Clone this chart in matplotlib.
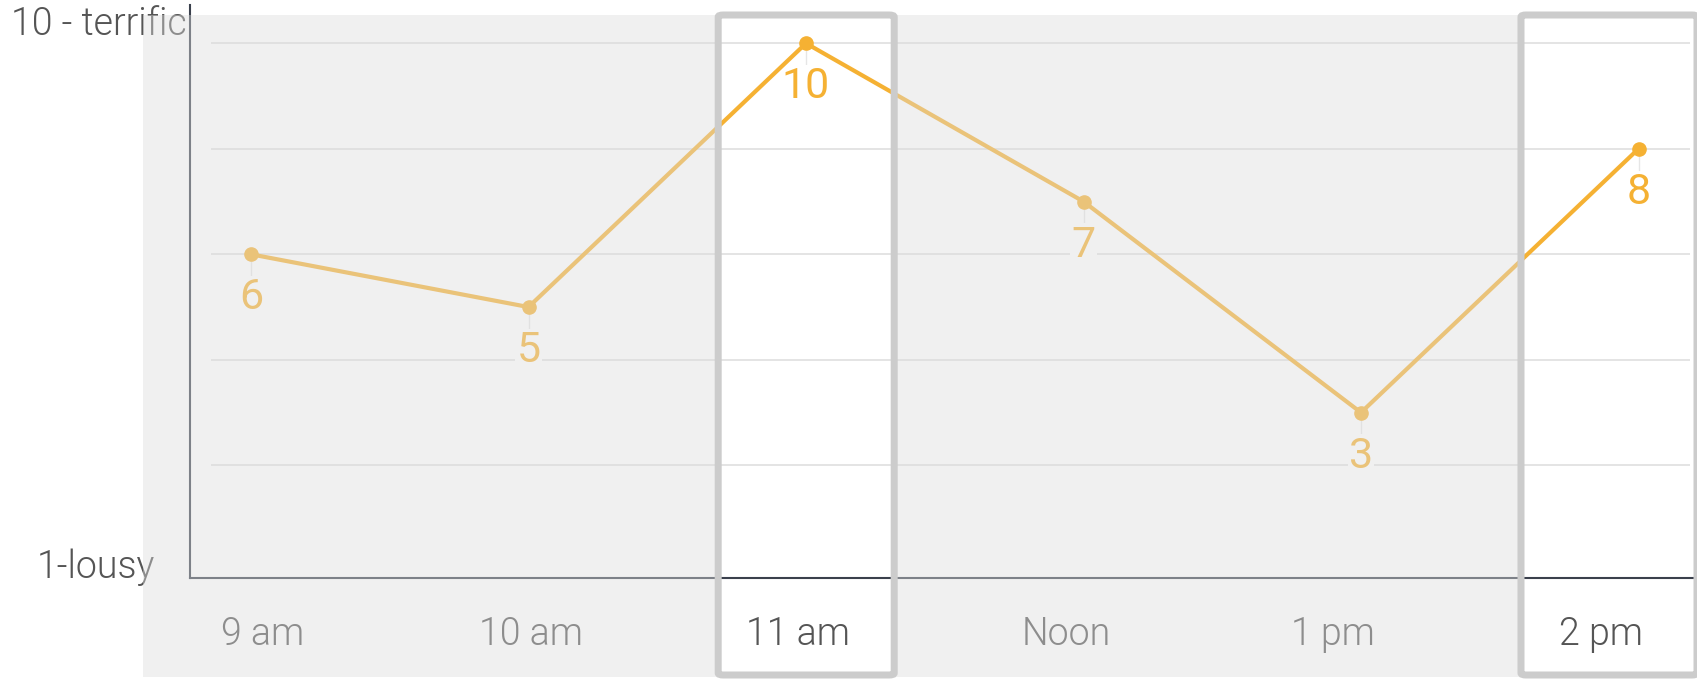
import matplotlib
matplotlib.use("Agg")
import matplotlib.pyplot as plt
from matplotlib.patches import Rectangle, FancyBboxPatch

# ---- data ----
times = ["9 am", "10 am", "11 am", "Noon", "1 pm", "2 pm"]
mood = [6, 5, 10, 7, 3, 8]
y_end_labels = ["1-lousy", "10 - terrific"]
grid_levels = [2, 4, 6, 8, 10]
highlighted = ["11 am", "2 pm"]

# ---- styling ----
W, H, DPI = 1697, 679, 100
ORANGE = "#F5B133"
TEXT = "#555555"
AXIS = "#3a404c"
GRID = "#dcdcdc"
FRAME = "#cccccc"
SHADE = (220 / 255, 220 / 255, 220 / 255)
SHADE_ALPHA = 0.42
PX = 72 / DPI  # points per pixel
AXIS_WEIGHT = 300   # Roboto Light
VALUE_WEIGHT = 400  # Roboto Regular

plt.rcParams["font.family"] = ["Roboto", "DejaVu Sans"]

fig = plt.figure(figsize=(W / DPI, H / DPI), dpi=DPI, facecolor="white")


def fx(px):
    return px / W


def fy(py):
    return 1 - py / H


# plot area in pixels (left, top, right, bottom)
L, T, R, B = 190, 5, 1697, 578
ax = fig.add_axes([fx(L), fy(B), fx(R) - fx(L), fy(T) - fy(B)])
ax.set_facecolor("none")

# point spacing: first point at x=251 px, 277.5 px apart
x0_px, dx_px = 251.0, 277.5
ax.set_xlim((L - x0_px) / dx_px, (R - x0_px) / dx_px)
# vertical scale: level 10 at y=43.3 px, 52.75 px per unit
y10_px, dy_px = 43.3, 52.75
ax.set_ylim(10 - (B - y10_px) / dy_px, 10 + (y10_px - T) / dy_px)

xs = list(range(len(times)))

# grid
ax.hlines(grid_levels, (211 - x0_px) / dx_px, (1690 - x0_px) / dx_px,
          color=GRID, lw=1.1, zorder=1)

# leader ticks from points down to labels
for x, v in zip(xs, mood):
    ax.vlines(x, v - 0.42, v - 0.12, color="#e6e6e6", lw=1, zorder=2)

for x, v in zip(xs, mood):
    ax.annotate(str(v), xy=(x, v), xytext=(0, -55 * PX),
                textcoords="offset points", ha="center", va="baseline",
                fontsize=31, fontweight=VALUE_WEIGHT, color=ORANGE, zorder=2.5,
                bbox=dict(boxstyle="square,pad=0.03", fc="white", ec="none"))

ax.plot(xs, mood, color=ORANGE, lw=3, marker="o", ms=9.5,
        solid_joinstyle="miter", zorder=3)

# category labels along the bottom
lab_x0_px, lab_dx_px = 263.0, 267.6
lab_pos = [(lab_x0_px + i * lab_dx_px - x0_px) / dx_px for i in range(len(times))]
for p, t in zip(lab_pos, times):
    ax.annotate(t, xy=(p, 0), xycoords=("data", "axes fraction"),
                xytext=(0, -67 * PX), textcoords="offset points",
                ha="center", va="baseline", fontsize=27, fontweight=AXIS_WEIGHT,
                color=TEXT, annotation_clip=False)

ax.set_xticks([])
ax.set_yticks([])
for s in ("top", "right"):
    ax.spines[s].set_visible(False)
for s in ("left", "bottom"):
    ax.spines[s].set_color(AXIS)
    ax.spines[s].set_linewidth(1.5)

# end labels of the rating scale
fig.text(fx(155), fy(578), y_end_labels[0], ha="right", va="baseline",
         fontsize=27, fontweight=AXIS_WEIGHT, color=TEXT, zorder=5)
fig.text(fx(11), fy(35), y_end_labels[1], ha="left", va="baseline",
         fontsize=27, fontweight=AXIS_WEIGHT, color=TEXT, zorder=5)

# highlighted columns: frame mid-lines in pixels
frame_w = 176
cols = []
for name in highlighted:
    i = times.index(name)
    c = lab_x0_px + i * lab_dx_px + 8
    cols.append((c - frame_w / 2, c + frame_w / 2))

# dim everything outside the highlighted columns
top_px, bot_px = 15, 677
edges = [143]
for a, b in cols:
    edges += [a, b]
edges.append(W + 5)
for a, b in zip(edges[0::2], edges[1::2]):
    if b > a:
        fig.patches.append(Rectangle((fx(a), fy(bot_px)), fx(b) - fx(a),
                                     fy(top_px) - fy(bot_px),
                                     transform=fig.transFigure,
                                     facecolor=SHADE, alpha=SHADE_ALPHA,
                                     edgecolor="none", zorder=10))

for a, b in cols:
    fig.patches.append(FancyBboxPatch((fx(a), fy(675)), fx(b) - fx(a),
                                      fy(15) - fy(675),
                                      boxstyle="round,pad=0,rounding_size=0.003",
                                      transform=fig.transFigure,
                                      facecolor="none", edgecolor=FRAME,
                                      lw=7 * PX, zorder=11))

fig.savefig("out.png", dpi=DPI, facecolor="white")
